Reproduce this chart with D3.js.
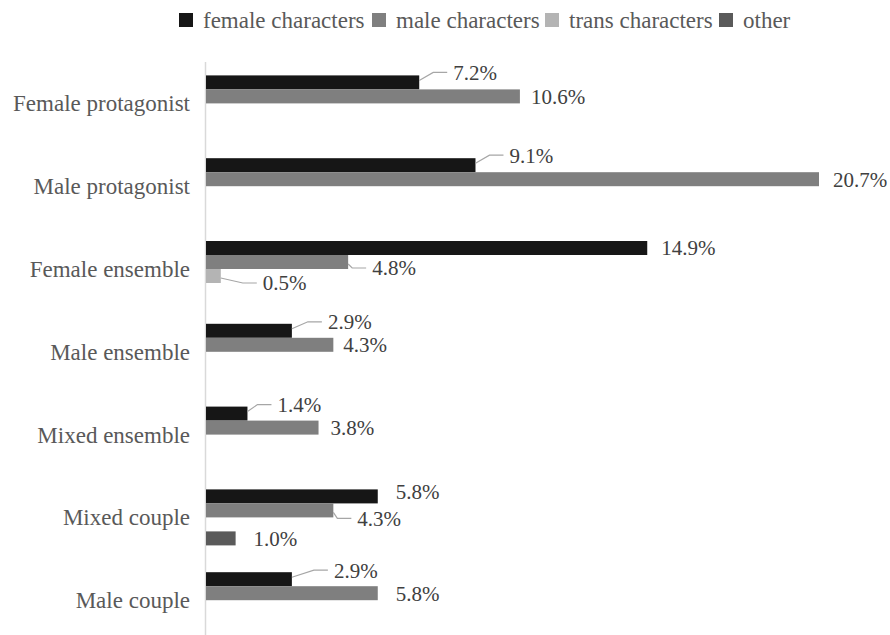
<!DOCTYPE html>
<html>
<head>
<meta charset="utf-8">
<script src="https://cdn.jsdelivr.net/npm/d3@7"></script>
<style>
  html, body { margin: 0; padding: 0; background: #fff; }
</style>
</head>
<body>
<svg id="chart" width="890" height="635"></svg>
<script>
// Share of characters by cast type and gender
const categories = ["Female protagonist", "Male protagonist", "Female ensemble", "Male ensemble", "Mixed ensemble", "Mixed couple", "Male couple"];
const seriesNames = ["female characters", "male characters", "trans characters", "other"];
const femaleValues = [7.2, 9.1, 14.9, 2.9, 1.4, 5.8, 2.9];
const maleValues   = [10.6, 20.7, 4.8, 4.3, 3.8, 4.3, 5.8];
const transValues  = [null, null, 0.5, null, null, null, null];
const otherValues  = [null, null, null, null, null, 1.0, null];
const seriesColors = ["#161616", "#7f7f7f", "#b4b4b4", "#5a5a5a"];

// Label placement relative to bar end / bar centre: [dx, dy, leader line]
const labelPlacement = {
  "0-0": [34, -10, true],  "0-1": [11, 0, false],
  "1-0": [34, -10, true],  "1-1": [14, 0, false],
  "2-0": [14, 0, false],   "2-1": [24, 6, true],   "2-2": [42, 7, true],
  "3-0": [36, -9, true],   "3-1": [10, 0, false],
  "4-0": [30, -9, true],   "4-1": [12, 0, false],
  "5-0": [18, -5, false],  "5-1": [24, 8, true],   "5-3": [18, 0, false],
  "6-0": [42, -9, true],   "6-1": [18, 0, false]
};
// Legend swatch left edges
const legendX = [179, 372, 545, 719];

const seriesValues = [femaleValues, maleValues, transValues, otherValues];
const FONT = '"Liberation Serif"';

const svg = d3.select("#chart");
const textColor = "#595959";

const x = d3.scaleLinear().domain([0, 20.7]).range([206, 819]);
const y = d3.scaleBand().domain(categories).range([62, 641.6]).paddingInner(0).paddingOuter(0);
const slot = d3.scaleBand().domain(d3.range(4)).range([0, 56]);
const bandOffset = (y.bandwidth() - 56) / 2;

// Bar records and label positions
const bars = [];
seriesValues.forEach((vals, s) => {
  vals.forEach((v, c) => {
    if (v != null) bars.push({ s, c, v, cat: categories[c] });
  });
});
const placed = bars.map(d => {
  const p = labelPlacement[d.c + "-" + d.s] || [10, 0, false];
  const bx = x(d.v);
  const by = y(d.cat) + bandOffset + slot(d.s) + slot.bandwidth() / 2;
  return { d, bx, by, tx: bx + p[0], ty: by + p[1], leader: p[2], up: p[1] < 0 };
});

// All text first: category labels, value labels, legend names
const textLayer = svg.append("g");

textLayer.append("g").selectAll("text")
  .data(categories).join("text")
  .attr("x", 190)
  .attr("y", d => y(d) + y.bandwidth() / 2)
  .attr("dy", "0.35em")
  .attr("text-anchor", "end")
  .style("font-family", FONT)
  .attr("font-size", 23)
  .attr("fill", textColor)
  .text(d => d);

textLayer.append("g").selectAll("text")
  .data(placed).join("text")
  .attr("x", p => p.tx)
  .attr("y", p => p.ty)
  .attr("dy", "0.35em")
  .attr("text-anchor", "start")
  .style("font-family", FONT)
  .attr("font-size", 21)
  .attr("fill", "#404040")
  .text(p => d3.format(".1f")(p.d.v) + "%");

textLayer.append("g").selectAll("text")
  .data(seriesNames).join("text")
  .attr("x", (d, i) => legendX[i] + 24)
  .attr("y", 20)
  .attr("dy", "0.35em")
  .attr("text-anchor", "start")
  .style("font-family", FONT)
  .attr("font-size", 23)
  .attr("fill", textColor)
  .text(d => d);

// Legend swatches
svg.append("g").selectAll("rect")
  .data(seriesNames).join("rect")
  .attr("x", (d, i) => legendX[i])
  .attr("y", 13)
  .attr("width", 14).attr("height", 14)
  .attr("fill", (d, i) => seriesColors[i]);

// Category axis
svg.append("line")
  .attr("x1", x(0) - 0.5).attr("x2", x(0) - 0.5)
  .attr("y1", 62).attr("y2", 635)
  .attr("stroke", "#d9d9d9").attr("stroke-width", 1.5);

// Bars
svg.append("g").selectAll("rect")
  .data(bars).join("rect")
  .attr("x", x(0))
  .attr("y", d => y(d.cat) + bandOffset + slot(d.s))
  .attr("width", d => x(d.v) - x(0))
  .attr("height", slot.bandwidth())
  .attr("fill", d => seriesColors[d.s]);

// Leader lines
svg.append("g").selectAll("path")
  .data(placed.filter(p => p.leader)).join("path")
  .attr("d", p => `M${p.bx},${p.by + (p.up ? -2 : 2)}L${p.tx - 20},${p.ty}L${p.tx - 6},${p.ty}`)
  .attr("fill", "none")
  .attr("stroke", "#a6a6a6")
  .attr("stroke-width", 1.2);
</script>
</body>
</html>
